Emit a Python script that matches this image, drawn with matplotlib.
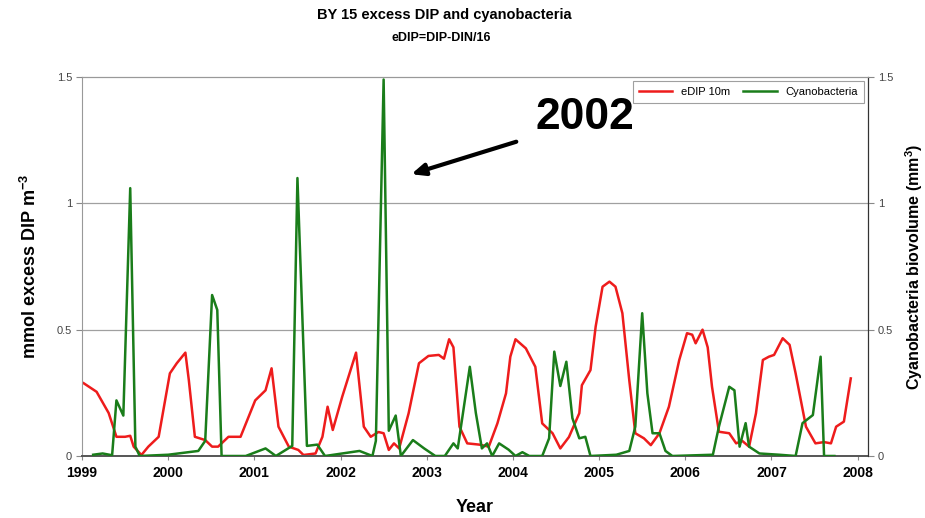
import matplotlib
matplotlib.use("Agg")
import matplotlib.pyplot as plt

plt.rcParams["font.family"] = ["Liberation Sans", "DejaVu Sans"]
plt.rcParams["mathtext.fontset"] = "custom"
plt.rcParams["mathtext.rm"] = "Liberation Sans"
plt.rcParams["mathtext.bf"] = "Liberation Sans:bold"

# eDIP 10 m (mmol excess DIP m-3)
edip_year = [1999.02, 1999.17, 1999.31, 1999.40, 1999.50, 1999.56, 1999.60, 1999.69,
             1999.77, 1999.89, 2000.02, 2000.10, 2000.20, 2000.24, 2000.31, 2000.43,
             2000.51, 2000.58, 2000.70, 2000.84, 2001.01, 2001.13, 2001.20, 2001.28,
             2001.40, 2001.51, 2001.57, 2001.71, 2001.79, 2001.85, 2001.91, 2002.02,
             2002.18, 2002.27, 2002.35, 2002.44, 2002.50, 2002.56, 2002.62, 2002.68,
             2002.79, 2002.91, 2003.02, 2003.14, 2003.20, 2003.26, 2003.31, 2003.38,
             2003.47, 2003.61, 2003.72, 2003.82, 2003.92, 2003.97, 2004.03, 2004.15,
             2004.26, 2004.34, 2004.46, 2004.55, 2004.65, 2004.77, 2004.80, 2004.90,
             2004.96, 2005.04, 2005.12, 2005.19, 2005.27, 2005.35, 2005.42, 2005.52,
             2005.60, 2005.70, 2005.81, 2005.93, 2006.02, 2006.08, 2006.12, 2006.20,
             2006.26, 2006.31, 2006.39, 2006.51, 2006.59, 2006.66, 2006.74, 2006.82,
             2006.90, 2006.97, 2007.03, 2007.13, 2007.21, 2007.28, 2007.40, 2007.51,
             2007.61, 2007.69, 2007.75, 2007.84, 2007.92]
edip_val = [0.288, 0.254, 0.17, 0.076, 0.076, 0.08, 0.037, 0.004,
            0.037, 0.076, 0.327, 0.367, 0.409, 0.30, 0.076, 0.063,
            0.037, 0.037, 0.076, 0.076, 0.22, 0.26, 0.347, 0.116,
            0.037, 0.024, 0.004, 0.01, 0.076, 0.195, 0.103, 0.235,
            0.409, 0.116, 0.076, 0.095, 0.09, 0.024, 0.05, 0.03,
            0.169, 0.367, 0.396, 0.40, 0.385, 0.462, 0.43, 0.116,
            0.05, 0.045, 0.037, 0.129, 0.248, 0.393, 0.462, 0.426,
            0.353, 0.129, 0.09, 0.03, 0.075, 0.169, 0.28, 0.34,
            0.512, 0.67, 0.69, 0.67, 0.565, 0.30, 0.09, 0.07,
            0.043, 0.09, 0.195, 0.38, 0.486, 0.48, 0.446, 0.50,
            0.43, 0.274, 0.096, 0.09, 0.05, 0.06, 0.037, 0.169,
            0.38, 0.393, 0.40, 0.466, 0.44, 0.327, 0.116, 0.05,
            0.055, 0.05, 0.116, 0.136, 0.307]

# cyanobacteria biovolume (mm3)
cyano_year = [1999.13, 1999.24, 1999.35, 1999.40, 1999.48, 1999.56, 1999.62, 1999.67,
              2000.00, 2000.35, 2000.43, 2000.51, 2000.57, 2000.62, 2000.90, 2001.13,
              2001.25, 2001.44, 2001.50, 2001.61, 2001.73, 2001.82, 2002.22, 2002.37,
              2002.41, 2002.50, 2002.56, 2002.64, 2002.70, 2002.84, 2002.97, 2003.10,
              2003.21, 2003.31, 2003.36, 2003.50, 2003.57, 2003.64, 2003.70, 2003.76,
              2003.84, 2003.95, 2004.03, 2004.11, 2004.19, 2004.34, 2004.42, 2004.48,
              2004.55, 2004.62, 2004.69, 2004.77, 2004.84, 2004.90, 2005.20, 2005.35,
              2005.42, 2005.50, 2005.56, 2005.62, 2005.70, 2005.77, 2005.85, 2006.32,
              2006.39, 2006.51, 2006.57, 2006.63, 2006.70, 2006.74, 2006.86, 2007.09,
              2007.28, 2007.36, 2007.48, 2007.57, 2007.61, 2007.73]
cyano_val = [0.005, 0.01, 0.003, 0.22, 0.16, 1.06, 0.037, 0.0,
             0.005, 0.02, 0.06, 0.637, 0.578, 0.0, 0.0, 0.03,
             0.0, 0.04, 1.10, 0.04, 0.045, 0.0, 0.02, 0.0,
             0.06, 1.49, 0.10, 0.16, 0.0, 0.063, 0.03, 0.0,
             0.0, 0.05, 0.03, 0.353, 0.17, 0.03, 0.05, 0.0,
             0.05, 0.025, 0.0, 0.015, 0.0, 0.0, 0.07, 0.413,
             0.277, 0.373, 0.15, 0.07, 0.076, 0.0, 0.005, 0.02,
             0.116, 0.565, 0.248, 0.09, 0.09, 0.02, 0.0, 0.005,
             0.116, 0.274, 0.26, 0.037, 0.13, 0.037, 0.01, 0.005,
             0.0, 0.13, 0.162, 0.393, 0.0, 0.0]

years = list(range(1999, 2009))
yticks = [0, 0.5, 1, 1.5]
ytick_labels = ["0", "0.5", "1", "1.5"]

fig = plt.figure(figsize=(9.25, 5.18), dpi=100)
ax = fig.add_axes([0.0886, 0.1197, 0.8498, 0.7317])
ax2 = ax.twinx()

red, green = "#ee1c1c", "#1a7d1a"
l1, = ax.plot(edip_year, edip_val, color=red, lw=1.8, solid_joinstyle="round",
              label="eDIP 10m")
l2, = ax2.plot(cyano_year, cyano_val, color=green, lw=1.8, solid_joinstyle="round",
               label="Cyanobacteria")

for a in (ax, ax2):
    a.set_xlim(1999, 2008.12)
    a.set_ylim(0, 1.5)
    a.set_yticks(yticks)
    a.set_yticklabels(ytick_labels, fontsize=8, color="#444444")
    a.tick_params(axis="y", length=4, color="#888888", pad=3)

for y in (0.5, 1.0):
    ax.axhline(y, color="#a0a0a0", lw=0.9, zorder=0)

ax.set_xticks(years)
ax.set_xticklabels([str(y) for y in years], fontsize=10, fontweight="bold")
ax.tick_params(axis="x", length=3, color="#888888", pad=4)

for sp in ("left", "top"):
    ax.spines[sp].set_color("#999999")
ax.spines["bottom"].set_color("#555555")
ax.spines["bottom"].set_linewidth(1.4)
ax2.spines["right"].set_color("#333333")
ax2.spines["top"].set_color("#999999")
ax2.spines["left"].set_visible(False)
ax2.spines["bottom"].set_visible(False)

ax.set_ylabel("mmol excess DIP m$^{\\mathbf{-3}}$", fontsize=13, fontweight="bold",
              labelpad=12)
ax2.set_ylabel("Cyanobacteria biovolume (mm$^{\\mathbf{3}}$)", fontsize=11.5,
               fontweight="bold", labelpad=7)
ax.set_xlabel("Year", fontsize=13, fontweight="bold", labelpad=14)

fig.text(0.48, 0.972, "BY 15 excess DIP and cyanobacteria", ha="center", va="center",
         fontsize=10.5, fontweight="bold")
fig.text(0.477, 0.927, "eDIP=DIP-DIN/16", ha="center", va="center",
         fontsize=9, fontweight="bold")

leg = ax2.legend(handles=[l1, l2], loc="upper right", ncol=2, fontsize=8,
                 frameon=True, fancybox=False, edgecolor="#888888",
                 handlelength=3, columnspacing=1.2, borderaxespad=0.4, borderpad=0.5)
leg.get_frame().set_linewidth(0.8)

ax2.annotate("", xy=(2002.79, 1.112), xytext=(2004.07, 1.247),
             arrowprops=dict(arrowstyle="-|>,head_length=0.8,head_width=0.35",
                             color="black", lw=3))
ax2.text(2004.84, 1.338, "2002", ha="center", va="center", fontsize=32,
         fontweight="bold")

fig.savefig("out.png", dpi=100)
